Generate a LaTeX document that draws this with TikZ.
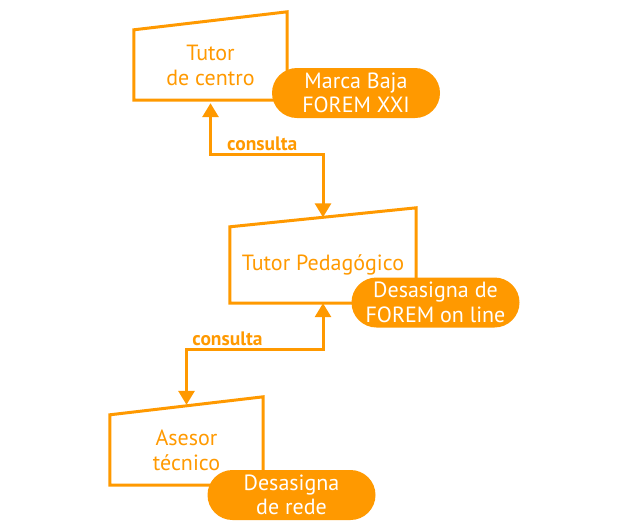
\documentclass[tikz,border=0pt]{standalone}
\usepackage{fontspec}
\setmainfont{PT Sans}
\usetikzlibrary{arrows.meta,shapes.misc}
\definecolor{naranja}{RGB}{255,153,0}

\begin{document}
\begin{tikzpicture}[x=1pt, y=-1pt,
            actor/.style={inner sep=0pt, align=center, text=naranja, font=\fontsize{22}{25}\selectfont},
            frame/.style={draw=naranja, line width=3pt, line join=miter},
            accion/.style={rounded rectangle, fill=naranja, text=white, align=center, inner sep=0pt,
                           minimum width=168pt, minimum height=50pt, font=\fontsize{22}{24.5}\selectfont},
            link/.style={draw=naranja, line width=3pt, {Triangle[width=16pt,length=14pt]}-{Triangle[width=16pt,length=14pt]}},
            etiqueta/.style={text=naranja, font=\bfseries\fontsize{19.5}{22}\selectfont, inner sep=1.5pt}]
            \useasboundingbox (0,0) rectangle (640,523);

            % actores
            \node[actor, minimum width=153pt, minimum height=70pt] (tutor)  at (210.5,65)  {Tutor\\de centro};
            \node[actor, minimum width=186pt, minimum height=76pt] (pedag)  at (323,265)   {Tutor Pedagógico};
            \node[actor, minimum width=153pt, minimum height=70pt] (asesor) at (186.5,450) {Asesor\\técnico};

            \draw[frame] (tutor.south west) -- (tutor.south east) -- ([yshift=18pt]tutor.north east) -- (tutor.north west) -- cycle;
            \draw[frame] (pedag.south west) -- (pedag.south east) -- ([yshift=19pt]pedag.north east) -- (pedag.north west) -- cycle;
            \draw[frame] (asesor.south west) -- (asesor.south east) -- ([yshift=18pt]asesor.north east) -- (asesor.north west) -- cycle;

            \coordinate (pedagtop)  at ([yshift=9.5pt]pedag.north);
            \coordinate (asesortop) at ([yshift=10pt]asesor.north);

            % acciones
            \node[accion] (baja)   at (356,93)    {Marca Baja\\FOREM XXI};
            \node[accion] (online) at (435.5,302.5) {Desasigna de\\FOREM on line};
            \node[accion] (rede)   at (291.5,495) {Desasigna\\de rede};

            % consultas
            \path[link, shorten <=3pt] (tutor.south) -- ++(0,54) -| node[etiqueta, pos=0.23, above] {consulta} (pedagtop);
            \path[link] (pedag.south) -- ++(0,46) -| node[etiqueta, pos=0.35, above] {consulta} (asesortop);
\end{tikzpicture}
\end{document}
